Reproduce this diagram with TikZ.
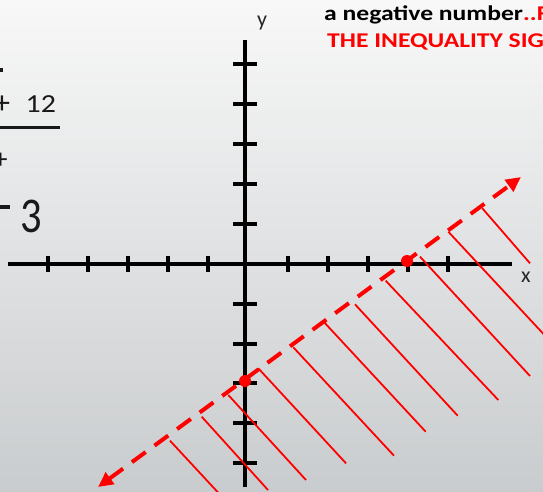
\documentclass[tikz,border=0pt]{standalone}
\usepackage{fontspec}
\setmainfont{Carlito}
\usetikzlibrary{arrows.meta}
\definecolor{bgtop}{RGB}{248,248,248}
\definecolor{bgbot}{RGB}{201,204,206}
\begin{document}
\begin{tikzpicture}[x=1pt,y=-1pt,
  axis/.style={line width=4pt,black},
  tickmark/.style={line width=3.5pt,black},
  boundary/.style={line width=4pt,red,dash pattern=on 17pt off 11pt},
  hatch/.style={line width=1.8pt,red},
  dotmark/.style={circle,fill=red,inner sep=0pt,minimum size=12pt},
  axlbl/.style={font=\fontsize{22}{26}\selectfont,inner sep=0pt,text=black!85},
  toptext/.style={font=\bfseries\fontsize{21}{25}\selectfont\addfontfeatures{FakeStretch=1.22},inner sep=0pt,anchor=base west},
  eqtext/.style={inner sep=0pt,text=black!90},
]
\useasboundingbox (0,0) rectangle (543,492);
\clip (0,0) rectangle (543,492);
\shade[top color=bgtop,bottom color=bgbot] (0,0) rectangle (543,492);

% axes
\coordinate (xl) at (8,264);
\coordinate (xr) at (512,264);
\coordinate (yt) at (245,40);
\coordinate (yb) at (245,487);
\draw[axis] (xl) -- (xr);
\draw[axis] (yt) -- (yb);
\foreach \t in {48,88,128,168,208,288,328,368,408,448}
  \draw[tickmark] (\t,256) -- (\t,272);
\foreach \t in {64,104,144,184,224,304,344,383,423,463}
  \draw[tickmark] (233,\t) -- (257,\t);

\node[axlbl,anchor=base] (ylab) at (262,27) {y};
\node[axlbl,anchor=base] (xlab) at (526,282) {x};

% hatch lines
\foreach \sx/\sy/\ex/\ey in {170/440.7/225/500, 201.7/416.7/268/490, 228.3/395/306/480,
  258.3/368.3/346/463.3, 293.3/347.3/394/455.7, 322.7/320.7/425.7/431.7,
  355/304.3/457.7/415.7, 385.7/280.7/498.3/400, 420/256.7/530/376,
  448.3/231.7/550/341, 482.3/208.3/530/263.3}
  \draw[hatch] (\sx,\sy) -- (\ex,\ey);

% boundary line
\coordinate (lo) at (98,487);
\coordinate (hi) at (521,177);
\draw[boundary,{Triangle[length=15pt,width=14pt]}-{Triangle[length=15pt,width=14pt]}] (lo) -- (hi);
\node[dotmark] (yint) at (245,381) {};
\node[dotmark] (xint) at (407,261) {};

% top text
\node[toptext] (t1) at (324,20.7) {a negative number\textcolor{red}{..F}};
\node[toptext,text=red] (t2) at (327,47.3) {THE INEQUALITY SIG};

% left equation fragments
\fill[black!90] (0,68) rectangle (3.3,72);
\node[eqtext,font=\fontsize{32}{36}\selectfont] (plusa) at (2,104.5) {+};
\node[eqtext,font=\fontsize{26}{30}\selectfont\addfontfeatures{FakeStretch=1.15},anchor=base west] (twelve) at (25.5,113) {12};
\fill[black!90] (0,125.7) rectangle (60,129);
\node[eqtext,font=\fontsize{28}{30}\selectfont] (plusb) at (0.5,161) {+};
\fill[black!90] (0,205) rectangle (10,209);
\node[eqtext,font=\fontsize{50}{56}\selectfont\addfontfeatures{FakeStretch=0.85},anchor=base west] (three) at (20,232) {3};
\end{tikzpicture}
\end{document}
